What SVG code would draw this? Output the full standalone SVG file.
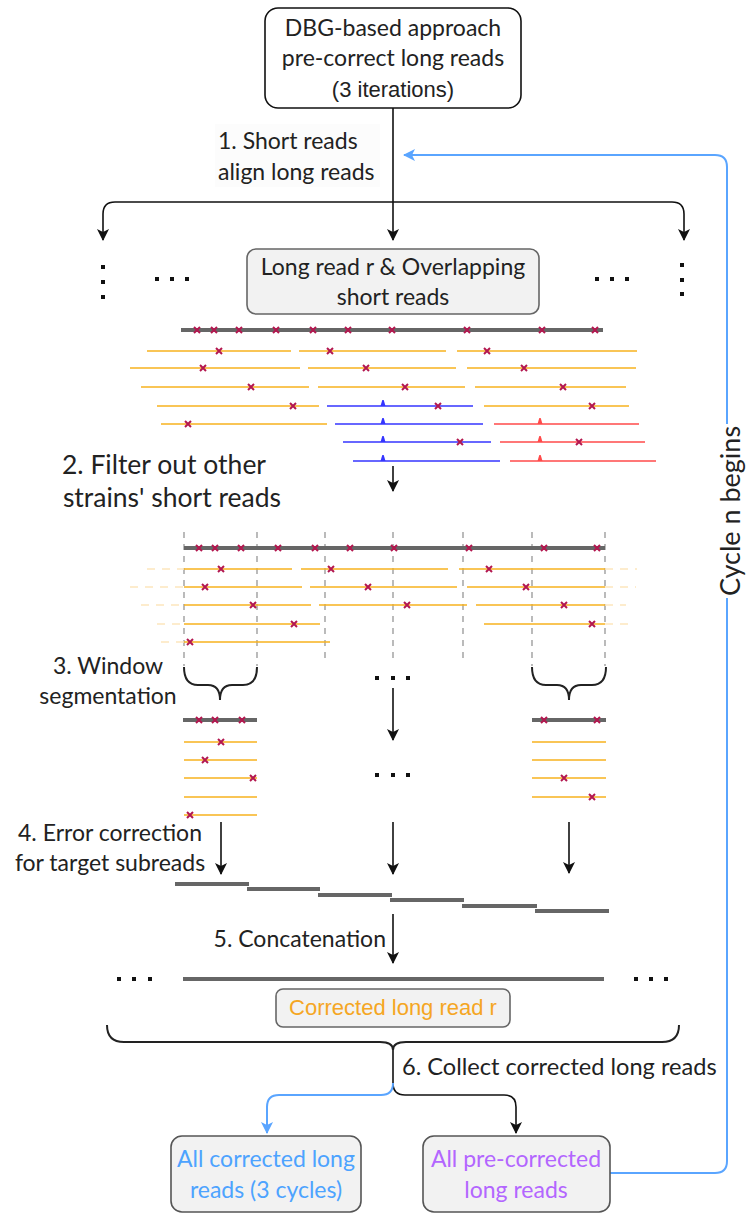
<svg xmlns="http://www.w3.org/2000/svg" xmlns:xlink="http://www.w3.org/1999/xlink" width="752" height="1217" viewBox="0 0 752 1217">
<defs>
<style>
.t{font-family:Lato,"Liberation Sans",sans-serif;font-size:23px;fill:#222}
.a{font-family:"Liberation Sans",Arial,sans-serif;font-size:22px}
.c{fill:none;stroke:#111;stroke-width:1.6}
.cb{fill:none;stroke:#5aa5ff;stroke-width:2}
.g{stroke:#666;stroke-width:4}
.y{stroke:#f7b21e;stroke-width:1.6}
.b{stroke:#3535ff;stroke-width:1.6}
.r{stroke:#ff4a4a;stroke-width:1.6}
.f{stroke:#fde6bd;stroke-width:1.6;stroke-dasharray:8 7}
.v{stroke:#aaa;stroke-width:1.6;stroke-dasharray:6 6}
.br{fill:none;stroke:#222;stroke-width:2}
</style>
<marker id="ah" viewBox="0 0 12 12" refX="11" refY="6" markerWidth="12" markerHeight="12" markerUnits="userSpaceOnUse" orient="auto"><path d="M0,0 L12,6 L0,12 L3,6 Z" fill="#111"/></marker>
<marker id="ab" viewBox="0 0 12 12" refX="11" refY="6" markerWidth="12" markerHeight="12" markerUnits="userSpaceOnUse" orient="auto"><path d="M0,0 L12,6 L0,12 L3,6 Z" fill="#5aa5ff"/></marker>
<path id="x" d="M-3,-3 L3,3 M3,-3 L-3,3" stroke="#b3174f" stroke-width="2"/>
<path id="tb" d="M-2.5,0 L-0.7,-6 L0.7,-6 L2.5,0 Z" fill="#3535ff"/>
<path id="tr" d="M-2.5,0 L-0.7,-6 L0.7,-6 L2.5,0 Z" fill="#ff4a4a"/>
<rect id="d" x="-2" y="-2" width="4" height="4" fill="#111"/>
</defs>
<rect width="752" height="1217" fill="#fff"/>

<g id="connectors">
<path class="c" d="M393,108 L393,240" marker-end="url(#ah)"/>
<path class="c" d="M393,202 L115,202 Q103,202 103,214 L103,240" marker-end="url(#ah)"/>
<path class="c" d="M393,202 L672,202 Q684,202 684,214 L684,240" marker-end="url(#ah)"/>
<path class="c" d="M393,466 L393,491" marker-end="url(#ah)"/>
<path class="c" d="M393,688 L393,740" marker-end="url(#ah)"/>
<path class="c" d="M221,822 L221,874" marker-end="url(#ah)"/>
<path class="c" d="M393,822 L393,874" marker-end="url(#ah)"/>
<path class="c" d="M569,822 L569,873" marker-end="url(#ah)"/>
<path class="c" d="M393,914 L393,963" marker-end="url(#ah)"/>
<path class="c" d="M393,1048 L393,1083 Q393,1095 405,1095 L504,1095 Q516,1095 516,1107 L516,1133" marker-end="url(#ah)"/>
<path class="cb" d="M393,1083 Q393,1095 381,1095 L279,1095 Q267,1095 267,1107 L267,1133" marker-end="url(#ab)"/>
<path class="cb" d="M610,1173 L715,1173 Q727,1173 727,1161 L727,167 Q727,155 715,155 L404,155" marker-end="url(#ab)"/>
<rect x="713" y="424" width="30" height="174" fill="#fff"/>
<text class="t" style="font-size:27px" text-anchor="middle" dominant-baseline="central" transform="translate(729,511) rotate(-90)">Cycle n begins</text>
</g>

<g id="top-box">
<rect x="265" y="8" width="256" height="100" rx="13" fill="#fff" stroke="#111" stroke-width="1.6"/>
<text class="t" x="393" y="36" text-anchor="middle">DBG-based approach</text>
<text class="t" x="393" y="66" text-anchor="middle">pre-correct long reads</text>
<text class="a" x="393" y="97" text-anchor="middle" fill="#222">(3 iterations)</text>
</g>

<g id="label-1">
<rect x="215" y="124" width="165" height="63" fill="#fcfcfc"/>
<text class="t" x="218" y="149">1. Short reads</text>
<text class="t" x="218" y="180">align long reads</text>
</g>

<g id="dots-top">
<use href="#d" x="103" y="267"/><use href="#d" x="103" y="282"/><use href="#d" x="103" y="297"/>
<use href="#d" x="157" y="279"/><use href="#d" x="172" y="279"/><use href="#d" x="187" y="279"/>
<use href="#d" x="597" y="279"/><use href="#d" x="612" y="279"/><use href="#d" x="627" y="279"/>
<use href="#d" x="682" y="265"/><use href="#d" x="682" y="280"/><use href="#d" x="682" y="294"/>
</g>

<g id="long-read-box">
<rect x="247" y="249" width="292" height="65" rx="9" fill="#f2f2f2" stroke="#666" stroke-width="1.6"/>
<text class="t" x="393" y="275" text-anchor="middle">Long read r &amp; Overlapping</text>
<text class="t" x="393" y="305" text-anchor="middle">short reads</text>
</g>

<g id="reads-aligned">
<line class="g" x1="181" y1="330" x2="603" y2="330"/>
<use href="#x" x="197" y="330"/><use href="#x" x="214" y="330"/><use href="#x" x="239" y="330"/><use href="#x" x="276" y="330"/><use href="#x" x="313" y="330"/><use href="#x" x="348" y="330"/><use href="#x" x="392" y="330"/><use href="#x" x="467" y="330"/><use href="#x" x="542" y="330"/><use href="#x" x="595" y="330"/>
<line class="y" x1="147" y1="351" x2="291" y2="351"/><line class="y" x1="299" y1="351" x2="446" y2="351"/><line class="y" x1="457" y1="351" x2="637" y2="351"/>
<use href="#x" x="219" y="351"/><use href="#x" x="330" y="351"/><use href="#x" x="487" y="351"/>
<line class="y" x1="130" y1="368" x2="300" y2="368"/><line class="y" x1="308" y1="368" x2="456" y2="368"/><line class="y" x1="467" y1="368" x2="636" y2="368"/>
<use href="#x" x="203" y="368"/><use href="#x" x="366" y="368"/><use href="#x" x="524" y="368"/>
<line class="y" x1="141" y1="387" x2="309" y2="387"/><line class="y" x1="318" y1="387" x2="465" y2="387"/><line class="y" x1="475" y1="387" x2="626" y2="387"/>
<use href="#x" x="251" y="387"/><use href="#x" x="405" y="387"/><use href="#x" x="563" y="387"/>
<line class="y" x1="157" y1="406" x2="319" y2="406"/><line class="b" x1="327" y1="406" x2="473" y2="406"/><line class="y" x1="484" y1="406" x2="629" y2="406"/>
<use href="#tb" x="383" y="406"/>
<use href="#x" x="293" y="406"/><use href="#x" x="438" y="406"/><use href="#x" x="592" y="406"/>
<line class="y" x1="161" y1="424" x2="327" y2="424"/><line class="b" x1="335" y1="424" x2="483" y2="424"/><line class="r" x1="494" y1="424" x2="639" y2="424"/>
<use href="#tb" x="383" y="424"/><use href="#tr" x="540" y="424"/>
<use href="#x" x="188" y="424"/>
<line class="b" x1="343" y1="442" x2="491" y2="442"/><line class="r" x1="500" y1="442" x2="645" y2="442"/>
<use href="#tb" x="383" y="442"/><use href="#tr" x="540" y="442"/>
<use href="#x" x="460" y="442"/><use href="#x" x="579" y="442"/>
<line class="b" x1="353" y1="461" x2="500" y2="461"/><line class="r" x1="510" y1="461" x2="656" y2="461"/>
<use href="#tb" x="383" y="461"/><use href="#tr" x="540" y="461"/>
</g>

<g id="label-2">
<text class="t" x="164" y="474" text-anchor="middle" style="font-size:26.5px">2. Filter out other</text>
<text class="t" x="172" y="507" text-anchor="middle" style="font-size:26.5px">strains' short reads</text>
</g>

<g id="reads-filtered">
<line class="v" x1="184" y1="532" x2="184" y2="666"/><line class="v" x1="257" y1="532" x2="257" y2="666"/><line class="v" x1="325" y1="532" x2="325" y2="664"/><line class="v" x1="393" y1="532" x2="393" y2="664"/><line class="v" x1="463" y1="532" x2="463" y2="664"/><line class="v" x1="532" y1="532" x2="532" y2="666"/><line class="v" x1="605" y1="532" x2="605" y2="666"/>
<line class="g" x1="184" y1="548" x2="605" y2="548"/>
<use href="#x" x="199" y="548"/><use href="#x" x="215" y="548"/><use href="#x" x="241" y="548"/><use href="#x" x="278" y="548"/><use href="#x" x="315" y="548"/><use href="#x" x="350" y="548"/><use href="#x" x="394" y="548"/><use href="#x" x="469" y="548"/><use href="#x" x="544" y="548"/><use href="#x" x="597" y="548"/>
<line class="f" x1="147" y1="569" x2="184" y2="569"/><line class="f" x1="605" y1="569" x2="637" y2="569"/>
<line class="y" x1="184" y1="569" x2="292" y2="569"/><line class="y" x1="301" y1="569" x2="448" y2="569"/><line class="y" x1="459" y1="569" x2="605" y2="569"/>
<use href="#x" x="221" y="569"/><use href="#x" x="331" y="569"/><use href="#x" x="489" y="569"/>
<line class="f" x1="130" y1="587" x2="184" y2="587"/><line class="f" x1="605" y1="587" x2="636" y2="587"/>
<line class="y" x1="184" y1="587" x2="302" y2="587"/><line class="y" x1="310" y1="587" x2="457" y2="587"/><line class="y" x1="467" y1="587" x2="605" y2="587"/>
<use href="#x" x="205" y="587"/><use href="#x" x="368" y="587"/><use href="#x" x="526" y="587"/>
<line class="f" x1="141" y1="605" x2="184" y2="605"/><line class="f" x1="605" y1="605" x2="626" y2="605"/>
<line class="y" x1="184" y1="605" x2="311" y2="605"/><line class="y" x1="319" y1="605" x2="467" y2="605"/><line class="y" x1="476" y1="605" x2="605" y2="605"/>
<use href="#x" x="253" y="605"/><use href="#x" x="407" y="605"/><use href="#x" x="564" y="605"/>
<line class="f" x1="157" y1="624" x2="184" y2="624"/><line class="f" x1="605" y1="624" x2="629" y2="624"/>
<line class="y" x1="184" y1="624" x2="320" y2="624"/><line class="y" x1="484" y1="624" x2="605" y2="624"/>
<use href="#x" x="294" y="624"/><use href="#x" x="592" y="624"/>
<line class="f" x1="161" y1="642" x2="184" y2="642"/>
<line class="y" x1="184" y1="642" x2="330" y2="642"/>
<use href="#x" x="190" y="642"/>
<use href="#d" x="377" y="678"/><use href="#d" x="393" y="678"/><use href="#d" x="408" y="678"/>
</g>

<g id="label-3">
<text class="t" x="108" y="674" text-anchor="middle">3. Window</text>
<text class="t" x="108" y="704" text-anchor="middle">segmentation</text>
</g>

<g id="braces">
<path class="br" d="M184,667 Q184,685 198,685 L208,685 Q220,685 220,700 Q220,685 232,685 L243,685 Q257,685 257,667"/>
<path class="br" d="M532,667 Q532,685 546,685 L557,685 Q569,685 569,700 Q569,685 581,685 L592,685 Q606,685 606,667"/>
</g>

<g id="window-left">
<line class="g" x1="183" y1="720" x2="257" y2="720"/>
<use href="#x" x="199" y="720"/><use href="#x" x="215" y="720"/><use href="#x" x="242" y="720"/>
<line class="y" x1="184" y1="742" x2="257" y2="742"/><line class="y" x1="184" y1="760" x2="257" y2="760"/><line class="y" x1="184" y1="778" x2="257" y2="778"/><line class="y" x1="184" y1="797" x2="257" y2="797"/><line class="y" x1="184" y1="815" x2="257" y2="815"/>
<use href="#x" x="221" y="742"/><use href="#x" x="205" y="760"/><use href="#x" x="253" y="778"/><use href="#x" x="190" y="815"/>
</g>

<g id="window-mid">
<use href="#d" x="377" y="775"/><use href="#d" x="393" y="775"/><use href="#d" x="408" y="775"/>
</g>

<g id="window-right">
<line class="g" x1="532" y1="720" x2="606" y2="720"/>
<use href="#x" x="544" y="720"/><use href="#x" x="597" y="720"/>
<line class="y" x1="532" y1="742" x2="606" y2="742"/><line class="y" x1="532" y1="760" x2="606" y2="760"/><line class="y" x1="532" y1="778" x2="606" y2="778"/><line class="y" x1="532" y1="797" x2="606" y2="797"/>
<use href="#x" x="564" y="778"/><use href="#x" x="592" y="797"/>
</g>

<g id="label-4">
<text class="t" x="110" y="841" text-anchor="middle">4. Error correction</text>
<text class="t" x="110" y="871" text-anchor="middle">for target subreads</text>
</g>

<g id="corrected-subreads">
<line class="g" x1="175" y1="884" x2="249" y2="884"/>
<line class="g" x1="247" y1="889" x2="320" y2="889"/>
<line class="g" x1="318" y1="895" x2="392" y2="895"/>
<line class="g" x1="390" y1="900" x2="464" y2="900"/>
<line class="g" x1="462" y1="906" x2="537" y2="906"/>
<line class="g" x1="535" y1="911" x2="609" y2="911"/>
</g>

<g id="label-5">
<text class="t" x="386" y="947" text-anchor="end">5. Concatenation</text>
</g>

<g id="corrected-long-read">
<use href="#d" x="119" y="979"/><use href="#d" x="134" y="979"/><use href="#d" x="150" y="979"/>
<line class="g" x1="183" y1="979" x2="604" y2="979"/>
<use href="#d" x="636" y="979"/><use href="#d" x="651" y="979"/><use href="#d" x="666" y="979"/>
<rect x="276" y="989" width="234" height="38" rx="7" fill="#f2f2f2" stroke="#666" stroke-width="1.6"/>
<text class="a" x="393" y="1015" text-anchor="middle" fill="#f5a623">Corrected long read r</text>
</g>

<g id="collect-brace">
<path class="br" d="M107,1025 Q107,1042 124,1042 L380,1042 Q393,1042 393,1050 Q393,1042 406,1042 L662,1042 Q679,1042 679,1025"/>
<text class="t" x="402" y="1075" style="font-size:23.6px">6. Collect corrected long reads</text>
</g>

<g id="all-corrected">
<rect x="171" y="1136" width="190" height="76" rx="11" fill="#f2f2f2" stroke="#555" stroke-width="1.6"/>
<text class="t" x="266" y="1167" text-anchor="middle" style="fill:#4da3ff">All corrected long</text>
<text class="t" x="266" y="1198" text-anchor="middle" style="fill:#4da3ff">reads (3 cycles)</text>
</g>

<g id="all-precorrected">
<rect x="423" y="1136" width="187" height="76" rx="11" fill="#f2f2f2" stroke="#555" stroke-width="1.6"/>
<text class="t" x="516" y="1167" text-anchor="middle" style="fill:#b366ff">All pre-corrected</text>
<text class="t" x="516" y="1198" text-anchor="middle" style="fill:#b366ff">long reads</text>
</g>
</svg>
